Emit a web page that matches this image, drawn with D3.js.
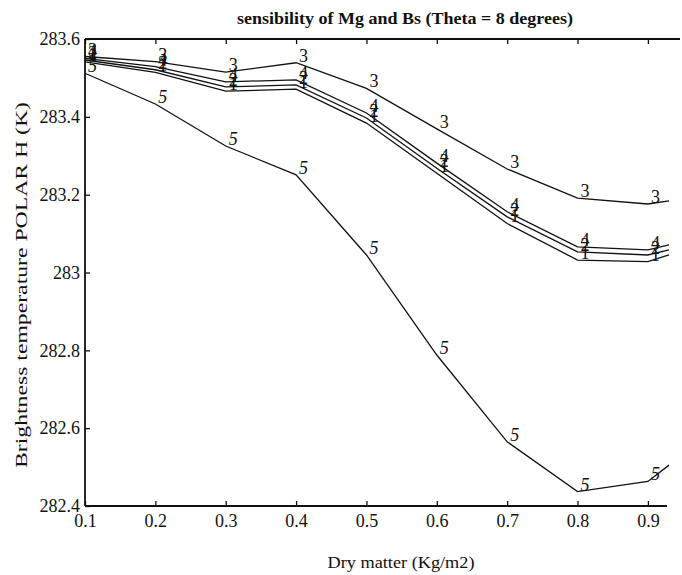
<!DOCTYPE html>
<html>
<head>
<meta charset="utf-8">
<script src="https://cdn.jsdelivr.net/npm/d3@7"></script>
<style>
  html, body { margin: 0; padding: 0; background: #fff; }
  svg { display: block; }
  text { font-family: "Liberation Serif", "Times New Roman", serif; fill: #111; }
</style>
</head>
<body>
<svg id="chart" width="682" height="575"></svg>
<script>
// ---- data ----
const dryMatter = [0.1, 0.2, 0.3, 0.4, 0.5, 0.6, 0.7, 0.8, 0.9, 0.93];
const curve1 = [283.541, 283.514, 283.466, 283.471, 283.384, 283.255, 283.126, 283.032, 283.028, 283.045];
const curve2 = [283.546, 283.521, 283.477, 283.482, 283.397, 283.268, 283.143, 283.053, 283.045, 283.058];
const curve3 = [283.555, 283.542, 283.515, 283.539, 283.473, 283.369, 283.266, 283.191, 283.176, 283.184];
const curve4 = [283.550, 283.529, 283.490, 283.495, 283.410, 283.281, 283.156, 283.066, 283.058, 283.071];
const curve5 = [283.512, 283.433, 283.325, 283.251, 283.045, 282.788, 282.565, 282.437, 282.463, 282.505];
const curveNames = ["1", "2", "3", "4", "5"];
const xTicks = [0.1, 0.2, 0.3, 0.4, 0.5, 0.6, 0.7, 0.8, 0.9];
const yTicks = [282.4, 282.6, 282.8, 283, 283.2, 283.4, 283.6];
const labelledPoints = 9; // labels at the first 9 points of each curve

const titleText = "sensibility of Mg and Bs (Theta = 8 degrees)";
const xTitle = "Dry matter (Kg/m2)";
const yTitle = "Brightness temperature POLAR H (K)";

// ---- layout ----
const svg = d3.select("#chart");
const L = 85, R = 669, T = 39, B = 506;

const x = d3.scaleLinear().domain([0.1, 0.93]).range([L, R]);
const y = d3.scaleLinear().domain([282.4, 283.6]).range([B, T]);

const series = [curve1, curve2, curve3, curve4, curve5].map((vals, i) => ({
  name: curveNames[i],
  points: vals.map((v, j) => [dryMatter[j], v])
}));

// axes
const fmt = d => String(+d.toFixed(1));
const yAxis = d3.axisLeft(y).tickValues(yTicks).tickFormat(fmt).tickSize(-5).tickPadding(5);
const xAxis = d3.axisBottom(x).tickValues(xTicks).tickFormat(fmt).tickSize(-5).tickPadding(8);
const xTop = d3.axisTop(x).tickValues(xTicks).tickFormat("").tickSize(-5);

const gy = svg.append("g").attr("transform", `translate(${L},0)`).call(yAxis);
const gx = svg.append("g").attr("transform", `translate(0,${B})`).call(xAxis);
const gt = svg.append("g").attr("transform", `translate(0,${T})`).call(xTop);

[gy, gx, gt].forEach(g => {
  g.select(".domain").remove();
  g.selectAll(".tick line").attr("stroke", "#111").attr("stroke-width", 1.3);
  g.selectAll(".tick text").attr("font-size", 18).attr("font-family", "Liberation Serif").attr("fill", "#111");
});

// frame lines (left, bottom, top; no right line)
svg.append("line").attr("x1", L).attr("x2", L).attr("y1", T).attr("y2", B)
  .attr("stroke", "#111").attr("stroke-width", 1.8);
svg.append("line").attr("x1", L).attr("x2", R - 2).attr("y1", B).attr("y2", B)
  .attr("stroke", "#111").attr("stroke-width", 1.8);
svg.append("line").attr("x1", L).attr("x2", 680).attr("y1", T).attr("y2", T)
  .attr("stroke", "#111").attr("stroke-width", 1.8);

// curves
const line = d3.line().x(d => x(d[0])).y(d => y(d[1]));
svg.append("g").selectAll("path").data(series).join("path")
  .attr("d", d => line(d.points))
  .attr("fill", "none").attr("stroke", "#111").attr("stroke-width", 1.3);

// curve labels at points
const lab = svg.append("g");
series.forEach(s => {
  s.points.slice(0, labelledPoints).forEach(p => {
    lab.append("text")
      .attr("x", x(p[0]) + 3)
      .attr("y", y(p[1]) - 1)
      .attr("font-size", 18)
      .attr("font-style", s.name === "5" ? "italic" : "normal")
      .text(s.name);
  });
});

// titles
svg.append("text").attr("x", 405).attr("y", 24).attr("text-anchor", "middle")
  .attr("font-size", 16).attr("font-weight", "bold")
  .attr("textLength", 336).attr("lengthAdjust", "spacingAndGlyphs")
  .text(titleText);

svg.append("text").attr("x", 401).attr("y", 568).attr("text-anchor", "middle")
  .attr("font-size", 17)
  .attr("textLength", 147).attr("lengthAdjust", "spacingAndGlyphs")
  .text(xTitle);

svg.append("text").attr("transform", "translate(27,285) rotate(-90)")
  .attr("text-anchor", "middle").attr("font-size", 17)
  .attr("textLength", 366).attr("lengthAdjust", "spacingAndGlyphs")
  .text(yTitle);
</script>
</body>
</html>
